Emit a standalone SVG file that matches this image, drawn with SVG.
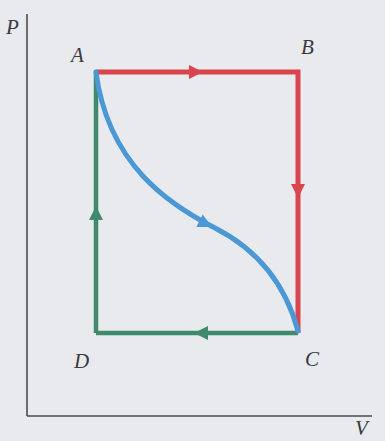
<svg xmlns="http://www.w3.org/2000/svg" width="385" height="441" viewBox="0 0 385 441">
<style>
.lbl{font-family:"Liberation Serif","DejaVu Serif",serif;font-style:italic;font-size:21px;fill:#3a3a40}
.axis{stroke:#4a4a50;stroke-width:1.6;fill:none}
.red{stroke:#d8454e;stroke-width:5;fill:none}
.green{stroke:#3f8a6c;stroke-width:4.5;fill:none}
.blue{stroke:#4a98d6;stroke-width:5;fill:none;stroke-linecap:round}
</style>
<defs>
<path id="ah" d="M0,0 L-14,-7 L-14,7 Z"/>
</defs>
<rect width="385" height="441" fill="#e8eaee"/>
<g id="axes">
<line class="axis" x1="27" y1="14" x2="27" y2="416"/>
<line class="axis" x1="27" y1="416" x2="372" y2="416"/>
</g>
<g id="connectors">
<path class="green" d="M96,333 L96,72"/>
<path class="green" d="M298,333 L96,333"/>
<path class="red" d="M96,72 L298,72 L298,333"/>
<path class="blue" d="M96,72 C108,165 170,205 215,228 C262,252 287,290 298,331"/>
<use href="#ah" fill="#d8454e" transform="translate(203,72)"/>
<use href="#ah" fill="#d8454e" transform="translate(298,198) rotate(90)"/>
<use href="#ah" fill="#3f8a6c" transform="translate(96,206) rotate(-90)"/>
<use href="#ah" fill="#3f8a6c" transform="translate(194,333) rotate(180)"/>
<use href="#ah" fill="#4a98d6" transform="translate(212,227) rotate(27)"/>
</g>
<g id="node-A"><text class="lbl" x="71" y="62">A</text></g>
<g id="node-B"><text class="lbl" x="301" y="54">B</text></g>
<g id="node-C"><text class="lbl" x="305" y="366">C</text></g>
<g id="node-D"><text class="lbl" x="74" y="368">D</text></g>
<g id="label-P"><text class="lbl" x="6" y="34">P</text></g>
<g id="label-V"><text class="lbl" x="355" y="435">V</text></g>
</svg>
